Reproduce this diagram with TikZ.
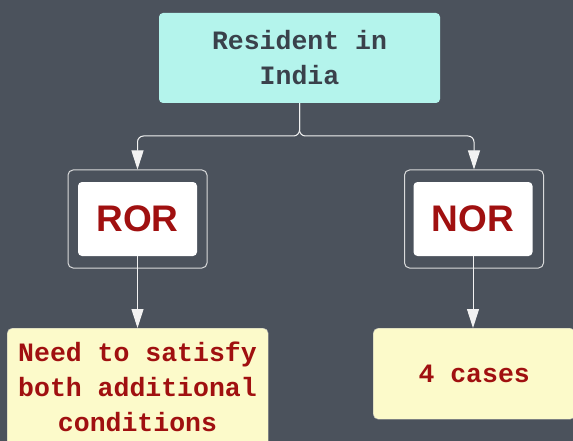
\documentclass[tikz,border=0pt]{standalone}
\usepackage{fontspec}
\setmainfont{Liberation Sans}
\newfontfamily\monofont{Liberation Mono}
\usetikzlibrary{arrows.meta}
\definecolor{bg}{HTML}{4B525C}
\definecolor{topfill}{HTML}{B4F4EC}
\definecolor{topText}{HTML}{3A414B}
\definecolor{leaffill}{HTML}{FCFACA}
\definecolor{redtext}{HTML}{A01010}
\definecolor{linecol}{HTML}{F2F2F2}
\tikzset{
  topbox/.style={fill=topfill, draw=none, rounded corners=4pt, minimum width=281pt, minimum height=90pt,
    align=center, text=topText, font=\monofont\bfseries\fontsize{26.5}{35}\selectfont, inner sep=0pt},
  outerbox/.style={draw=linecol!85!bg, line width=1pt, rounded corners=5pt, minimum width=139pt, minimum height=98pt, inner sep=0pt},
  innerbox/.style={fill=white, rounded corners=4pt, minimum width=119pt, minimum height=74pt,
    text=redtext, font=\bfseries\fontsize{37}{42}\selectfont, inner sep=0pt},
  leafbox/.style={fill=leaffill, draw=black!30, line width=0.4pt, rounded corners=5pt, align=center, text=redtext,
    font=\monofont\bfseries\fontsize{26.5}{35}\selectfont, inner sep=0pt},
  conn/.style={draw=linecol, line width=1pt},
  arr/.style={conn, -{Triangle[width=12pt,length=19pt]}}
}
\begin{document}
\begin{tikzpicture}[x=1pt,y=-1pt]
\fill[bg] (0,0) rectangle (573,441);
\useasboundingbox (0,0) rectangle (573,441);
\clip (0,0) rectangle (573,441);
\node[topbox] (top) at (299.5,58) {Resident in\\India};
\node[outerbox] (rorout) at (137.5,219) {};
\node[innerbox] (ror) at (137.5,219) {ROR};
\node[outerbox] (norout) at (474,219) {};
\node[innerbox] (nor) at (473,219) {NOR};
\node[leafbox, minimum width=261pt, minimum height=130pt, anchor=north west] (need) at (7,328) {};
\node[text=redtext, font=\monofont\bfseries\fontsize{26.5}{35}\selectfont, align=center, inner sep=0pt] (needtxt) at (137.5,387) {Need to satisfy\\both additional\\conditions};
\node[leafbox, minimum width=202pt, minimum height=91pt, anchor=north west] (cases) at (373,328) {4 cases};
\coordinate (j) at (299.5,136);
\draw[arr, rounded corners=6pt] (top.south) -- (j) -| (rorout.north);
\draw[arr, rounded corners=6pt] (top.south) -- (j) -| (norout.north);
\draw[arr] (ror.south) -- (ror.south |- need.north);
\draw[arr] (nor.south) -- (nor.south |- cases.north);
\end{tikzpicture}
\end{document}
